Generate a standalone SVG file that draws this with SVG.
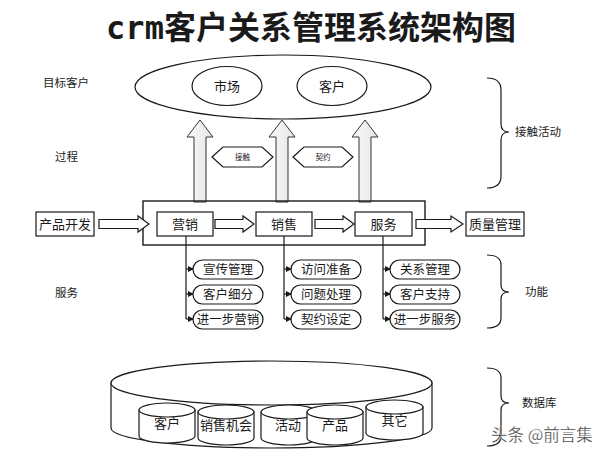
<svg xmlns="http://www.w3.org/2000/svg" width="599" height="454" viewBox="0 0 599 454">
<style>
.t{font-family:"Liberation Serif","Noto Sans CJK SC",serif;fill:#1a1a1a;}
.s{fill:#fff;stroke:#1a1a1a;stroke-width:1.2;}
.ln{fill:none;stroke:#1a1a1a;stroke-width:1.2;}
.up{fill:url(#g);stroke:#333;stroke-width:1;}
.lbl{font-size:13px;text-anchor:middle;}
.pl{font-size:12.5px;text-anchor:middle;}
</style>
<defs>
<linearGradient id="g" x1="0" y1="0" x2="1" y2="0">
<stop offset="0" stop-color="#fbfbfb"/><stop offset="1" stop-color="#e4e4e4"/>
</linearGradient>
<marker id="ah" markerWidth="6" markerHeight="6" refX="5" refY="3" orient="auto" markerUnits="userSpaceOnUse">
<path d="M0,0 L6,3 L0,6 Z" fill="#1a1a1a"/>
</marker>
</defs>
<rect width="599" height="454" fill="#fff"/>
<text x="311" y="39" font-family="'DejaVu Sans Mono','Noto Sans CJK SC',monospace" font-weight="bold" font-size="32" text-anchor="middle" fill="#1a1a1a">crm客户关系管理系统架构图</text>

<g id="side-labels" class="t" font-size="11.5">
<text x="43" y="87">目标客户</text>
<text x="55" y="161">过程</text>
<text x="55" y="297">服务</text>
<text x="515" y="136">接触活动</text>
<text x="525" y="296">功能</text>
<text x="522" y="407">数据库</text>
</g>

<g id="braces" class="ln">
<path d="M487,78 Q501,78 501,90 L501,124 Q501,132 509,132 Q501,132 501,140 L501,176 Q501,188 487,188"/>
<path d="M487,255 Q501,255 501,265 L501,285 Q501,292 509,292 Q501,292 501,299 L501,318 Q501,328 487,328"/>
<path d="M487,368 Q501,368 501,378 L501,396 Q501,403 509,403 Q501,403 501,410 L501,436 Q501,446 487,446"/>
</g>

<g id="target">
<ellipse class="s" cx="283" cy="87" rx="148" ry="32"/>
<g id="market"><ellipse class="s" cx="227" cy="86" rx="35" ry="19.5"/><text class="t lbl" x="227" y="91">市场</text></g>
<g id="customer"><ellipse class="s" cx="332" cy="86" rx="35" ry="19.5"/><text class="t lbl" x="332" y="91">客户</text></g>
</g>

<g id="up-arrows">
<polygon class="up" points="194,202 194,137 187,137 200,120 213,137 206,137 206,202"/>
<polygon class="up" points="276,202 276,137 269,137 282,120 295,137 288,137 288,202"/>
<polygon class="up" points="359,202 359,137 352,137 365,120 378,137 371,137 371,202"/>
</g>

<g id="contact"><polygon class="s" points="212,157 223,147 262,147 273,157 262,167 223,167"/><text class="t" x="242.5" y="160" font-size="7.5" text-anchor="middle">接触</text></g>
<g id="contract"><polygon class="s" points="293,157 304,147 342,147 353,157 342,167 304,167"/><text class="t" x="323" y="160" font-size="7.5" text-anchor="middle">契约</text></g>

<g id="process-frame"><rect x="143" y="201" width="282" height="44" fill="none" stroke="#1a1a1a" stroke-width="1.4"/></g>

<g id="connectors">
<polygon class="s" points="99,219.5 138,219.5 138,216 149,224 138,232 138,228.5 99,228.5"/>
<polygon class="s" points="215,219.5 243,219.5 243,216 254,224 243,232 243,228.5 215,228.5"/>
<polygon class="s" points="315,219.5 343,219.5 343,216 354,224 343,232 343,228.5 315,228.5"/>
<polygon class="s" points="416,219.5 451,219.5 451,216 463,224 451,232 451,228.5 416,228.5"/>
<path class="ln" d="M186,236 V319"/>
<path class="ln" d="M186,269 H193" marker-end="url(#ah)"/>
<path class="ln" d="M186,294 H193" marker-end="url(#ah)"/>
<path class="ln" d="M186,319 H193" marker-end="url(#ah)"/>
<path class="ln" d="M284,236 V319"/>
<path class="ln" d="M284,269 H291" marker-end="url(#ah)"/>
<path class="ln" d="M284,294 H291" marker-end="url(#ah)"/>
<path class="ln" d="M284,319 H291" marker-end="url(#ah)"/>
<path class="ln" d="M383,236 V319"/>
<path class="ln" d="M383,269 H390" marker-end="url(#ah)"/>
<path class="ln" d="M383,294 H390" marker-end="url(#ah)"/>
<path class="ln" d="M383,319 H390" marker-end="url(#ah)"/>
</g>

<g id="product-dev"><rect class="s" x="36" y="212" width="58" height="24"/><text class="t lbl" x="65" y="229">产品开发</text></g>
<g id="marketing"><rect class="s" x="157" y="212" width="56" height="24"/><text class="t lbl" x="185" y="229">营销</text></g>
<g id="sales"><rect class="s" x="256" y="212" width="56" height="24"/><text class="t lbl" x="284" y="229">销售</text></g>
<g id="service"><rect class="s" x="355" y="212" width="57" height="24"/><text class="t lbl" x="383.5" y="229">服务</text></g>
<g id="quality"><rect class="s" x="466" y="212" width="58" height="24"/><text class="t lbl" x="495" y="229">质量管理</text></g>

<g id="f1"><rect class="s" x="193" y="260" width="70" height="19" rx="9.5"/><text class="t pl" x="228" y="274">宣传管理</text></g>
<g id="f2"><rect class="s" x="193" y="285" width="70" height="19" rx="9.5"/><text class="t pl" x="228" y="299">客户细分</text></g>
<g id="f3"><rect class="s" x="193" y="310" width="70" height="19" rx="9.5"/><text class="t pl" x="228" y="324">进一步营销</text></g>
<g id="f4"><rect class="s" x="291" y="260" width="70" height="19" rx="9.5"/><text class="t pl" x="326" y="274">访问准备</text></g>
<g id="f5"><rect class="s" x="291" y="285" width="70" height="19" rx="9.5"/><text class="t pl" x="326" y="299">问题处理</text></g>
<g id="f6"><rect class="s" x="291" y="310" width="70" height="19" rx="9.5"/><text class="t pl" x="326" y="324">契约设定</text></g>
<g id="f7"><rect class="s" x="390" y="260" width="70" height="19" rx="9.5"/><text class="t pl" x="425" y="274">关系管理</text></g>
<g id="f8"><rect class="s" x="390" y="285" width="70" height="19" rx="9.5"/><text class="t pl" x="425" y="299">客户支持</text></g>
<g id="f9"><rect class="s" x="390" y="310" width="70" height="19" rx="9.5"/><text class="t pl" x="425" y="324">进一步服务</text></g>

<g id="database">
<path class="s" d="M111,383 L111,428 A160.5,20 0 0 0 432,428 L432,383 Z"/>
<ellipse class="s" cx="271.5" cy="383" rx="160.5" ry="22"/>
</g>
<g id="db-customer"><path class="s" d="M139,410 L139,436 A28,7 0 0 0 195,436 L195,410 Z"/><ellipse class="s" cx="167" cy="410" rx="28" ry="7"/><text class="t lbl" x="167" y="428">客户</text></g>
<g id="db-opportunity"><path class="s" d="M198,412 L198,438 A28,7 0 0 0 254,438 L254,412 Z"/><ellipse class="s" cx="226" cy="412" rx="28" ry="7"/><text class="t lbl" x="226" y="430">销售机会</text></g>
<g id="db-activity"><path class="s" d="M261,412 L261,438 A28,7 0 0 0 317,438 L317,412 Z"/><ellipse class="s" cx="289" cy="412" rx="28" ry="7"/><text class="t lbl" x="288" y="430">活动</text></g>
<g id="db-product"><path class="s" d="M307,412 L307,438 A28,7 0 0 0 363,438 L363,412 Z"/><ellipse class="s" cx="335" cy="412" rx="28" ry="7"/><text class="t lbl" x="335" y="430">产品</text></g>
<g id="db-other"><path class="s" d="M366,407 L366,433 A28.5,7 0 0 0 423,433 L423,407 Z"/><ellipse class="s" cx="394.5" cy="407" rx="28.5" ry="7"/><text class="t lbl" x="394.5" y="425">其它</text></g>

<text x="491" y="441" font-family="'Noto Sans CJK SC',sans-serif" font-size="16.5" fill="#333" stroke="#fff" stroke-width="0.3">头条 @前言集</text>
</svg>
